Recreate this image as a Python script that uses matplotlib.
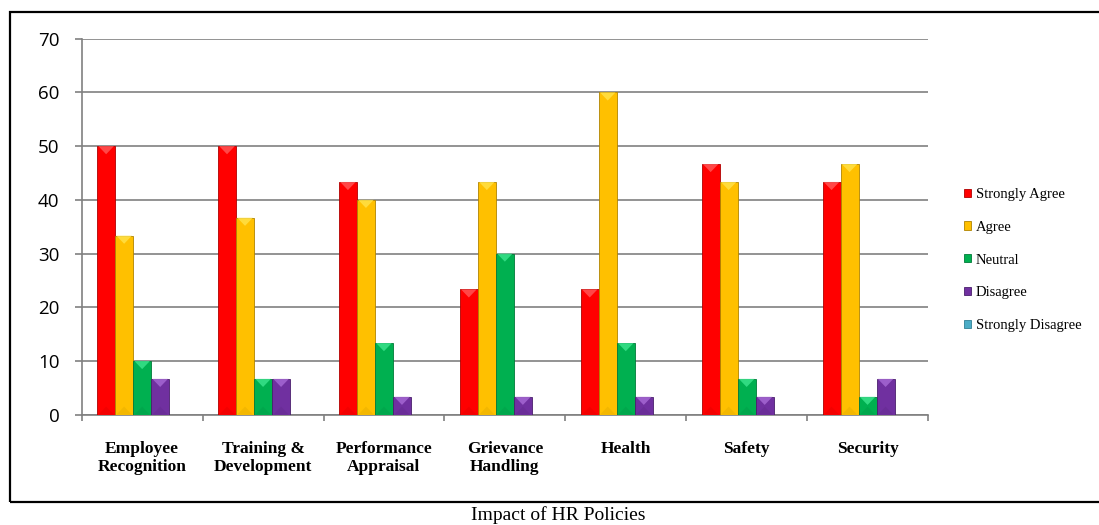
import numpy as np
import matplotlib.pyplot as plt
from matplotlib.patches import Rectangle, Polygon

# survey responses, percent of respondents per HR policy
policies = ["Employee\nRecognition", "Training &\nDevelopment", "Performance\nAppraisal",
            "Grievance\nHandling", "Health", "Safety", "Security"]
responses = ["Strongly Agree", "Agree", "Neutral", "Disagree", "Strongly Disagree"]
strongly_agree = [50.0, 50.0, 43.33, 23.33, 23.33, 46.67, 43.33]
agree = [33.33, 36.67, 40.0, 43.33, 60.0, 43.33, 46.67]
neutral = [10.0, 6.67, 13.33, 30.0, 13.33, 6.67, 3.33]
disagree = [6.67, 6.67, 3.33, 3.33, 3.33, 3.33, 6.67]
strongly_disagree = [0, 0, 0, 0, 0, 0, 0]
y_ticks = [0, 10, 20, 30, 40, 50, 60, 70]

series = [strongly_agree, agree, neutral, disagree, strongly_disagree]
colors = ["#FF0000", "#FFC000", "#00B050", "#7030A0", "#4BACC6"]
edges = ["#B00000", "#B08400", "#007A38", "#4A1F6C", "#2F7F95"]
tops = ["#FF5A5A", "#FFE24A", "#3DE58E", "#A86AD6", "#8ED6EA"]

W, H = 1099, 525
fig = plt.figure(figsize=(W / 100, H / 100), dpi=100)
ax = fig.add_axes([81.7 / W, 1 - 414.7 / H, (928 - 81.7) / W, (414.7 - 38.7) / H])

x = np.arange(len(policies))
bw = 0.149
offsets = (np.arange(len(series)) - (len(series) - 1) / 2) * bw

ax.set_xlim(-0.5, len(policies) - 0.5)
ax.set_ylim(0, 70)

# pixels per data unit, used to size the bevel on top of each bar
px_per_unit = (414.7 - 38.7) / 70.0
tri_h = (bw * 120.9 / 2) / px_per_unit * 0.9

for vals, off, c, ec, tc in zip(series, offsets, colors, edges, tops):
    bars = ax.bar(x + off, vals, width=bw, color=c, edgecolor=ec, linewidth=0.6, zorder=3)
    for b in bars:
        h = b.get_height()
        if h <= 0:
            continue
        x0 = b.get_x()
        th = min(tri_h, h / 2)
        ax.add_patch(Polygon([[x0 + 0.01, h], [x0 + bw - 0.01, h], [x0 + bw / 2, h - th]],
                             closed=True, facecolor=tc, edgecolor="none", alpha=0.8, zorder=4))
        ax.add_patch(Polygon([[x0 + 0.01, 0], [x0 + bw - 0.01, 0], [x0 + bw / 2, min(tri_h, h / 2)]],
                             closed=True, facecolor=ec, edgecolor="none", alpha=0.15, zorder=4))

# legend entries
for lab, c, ec in zip(responses, colors, edges):
    ax.bar([0], [0], color=c, edgecolor=ec, linewidth=0.6, label=lab)
leg = ax.legend(loc="center left", bbox_to_anchor=(958 / W, 1 - 260 / H),
                bbox_transform=fig.transFigure, frameon=False,
                prop={"family": "Liberation Serif", "size": 10.5},
                handlelength=0.5, handleheight=0.5, handletextpad=0.3,
                labelspacing=1.36, borderaxespad=0)

# gridlines and axes
ax.set_yticks(y_ticks)
ax.yaxis.grid(True, color="#808080", linewidth=1.2, zorder=0)
ax.set_axisbelow(True)
for s in ["top", "right"]:
    ax.spines[s].set_visible(False)
for s in ["left", "bottom"]:
    ax.spines[s].set_color("#808080")
    ax.spines[s].set_linewidth(1.2)
ax.tick_params(axis="y", length=5, width=1.2, color="#808080", pad=11)
for t in ax.get_yticklabels():
    t.set_family("Open Sans")
    t.set_fontsize(13.5)

ax.set_xticks(np.arange(len(policies) + 1) - 0.5)
ax.set_xticklabels([])
ax.tick_params(axis="x", which="major", length=4, width=1.2, color="#808080")
ax.set_xticks(x, minor=True)
ax.set_xticklabels(policies, minor=True, family="Liberation Serif", fontweight="bold",
                   fontsize=12.5, linespacing=1.2)
ax.tick_params(axis="x", which="minor", length=0, pad=19)

# outer frame and caption
fig.add_artist(Rectangle((9.5 / W, 1 - 502 / H), (1110 - 9.5) / W, (502 - 12) / H,
                         transform=fig.transFigure, fill=False, edgecolor="black",
                         linewidth=1.6, clip_on=False))
fig.text(558 / W, 1 - 515 / H, "Impact of HR Policies", ha="center", va="center",
         family="Liberation Serif", fontsize=14)

fig.savefig("out.png", dpi=100)
